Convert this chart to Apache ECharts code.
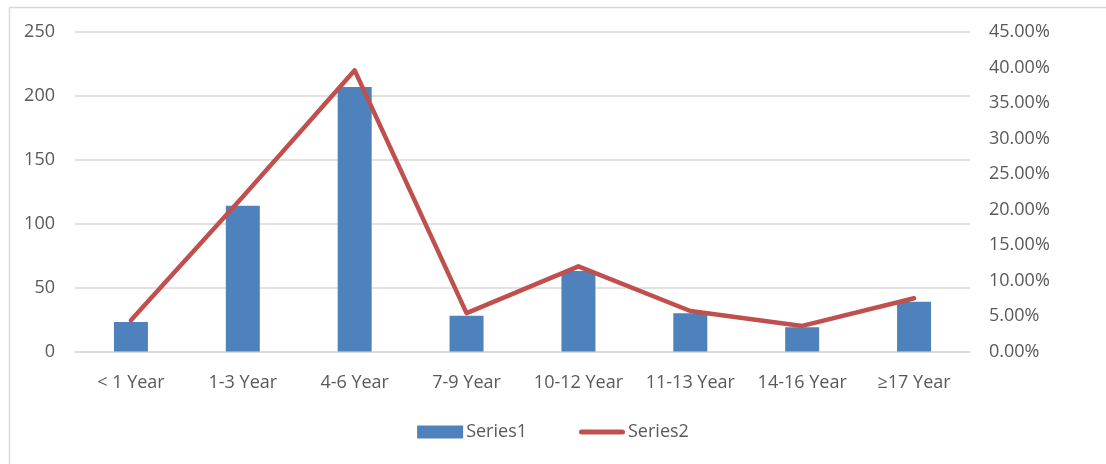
<!DOCTYPE html>
<html>
<head>
<meta charset="utf-8">
<script src="https://cdn.jsdelivr.net/npm/echarts@6/dist/echarts.min.js"></script>
<style>html,body{margin:0;padding:0;background:#fff;}#c{width:1106px;height:464px;}</style>
</head>
<body>
<div id="c"></div>
<script>
const categories = ['< 1 Year', '1-3 Year', '4-6 Year', '7-9 Year', '10-12 Year', '11-13 Year', '14-16 Year', '≥17 Year'];
const series1 = [23, 114, 207, 28, 63, 30, 19, 39];
const series2 = [0.044, 0.218, 0.396, 0.054, 0.120, 0.057, 0.036, 0.075];
const leftTicks = [0, 50, 100, 150, 200, 250];
const rightTicks = [0, 0.05, 0.10, 0.15, 0.20, 0.25, 0.30, 0.35, 0.40, 0.45];

const FONT = 'Open Sans';
const FS = 18;
const chart = echarts.init(document.getElementById('c'));
chart.setOption({
  animation: false,
  backgroundColor: '#fff',
  textStyle: { fontFamily: FONT },
  graphic: [{
    type: 'rect', left: 7, top: 5, silent: true,
    shape: { x: 0.5, y: 0.5, width: 1120, height: 480 },
    style: { fill: 'none', stroke: '#d9d9d9', lineWidth: 1.5 }
  }],
  grid: { left: 75, right: 136, top: 32, bottom: 112.5, containLabel: false },
  legend: {
    bottom: 18, left: 'center',
    itemGap: 52, itemWidth: 46, itemHeight: 13, symbolKeepAspect: true,
    textStyle: { fontFamily: FONT, fontSize: FS, color: '#595959', padding: [0, 0, 0, -2] },
    data: [
      { name: 'Series1', icon: 'rect' },
      { name: 'Series2', icon: 'path://M2.5,0 L43.5,0 A2.5,2.5 0 0 1 43.5,5 L2.5,5 A2.5,2.5 0 0 1 2.5,0 Z', itemStyle: { color: '#c0504d' } }
    ]
  },
  xAxis: {
    type: 'category', data: categories,
    axisLine: { show: true, lineStyle: { color: '#d9d9d9', width: 1.5 } },
    axisTick: { show: false },
    axisLabel: { color: '#595959', fontSize: FS, fontFamily: FONT, margin: 22, interval: 0 }
  },
  yAxis: [{
    type: 'value', min: leftTicks[0], max: leftTicks[leftTicks.length - 1], interval: 50,
    axisLine: { show: false }, axisTick: { show: false },
    splitLine: { lineStyle: { color: '#d9d9d9', width: 1.5 } },
    axisLabel: { color: '#595959', fontSize: FS, fontFamily: FONT, margin: 20 }
  }, {
    type: 'value', min: rightTicks[0], max: rightTicks[rightTicks.length - 1], interval: 0.05,
    axisLine: { show: false }, axisTick: { show: false }, splitLine: { show: false },
    axisLabel: {
      color: '#595959', fontSize: FS, fontFamily: FONT, margin: 19,
      formatter: v => (v * 100).toFixed(2) + '%'
    }
  }],
  series: [{
    name: 'Series1', type: 'bar', data: series1, barWidth: 34,
    itemStyle: { color: '#4f81bd' }
  }, {
    name: 'Series2', type: 'line', yAxisIndex: 1, data: series2,
    symbol: 'none', lineStyle: { color: '#c0504d', width: 4.5, cap: 'round', join: 'round' },
    itemStyle: { color: '#c0504d' }
  }]
});
</script>
</body>
</html>
